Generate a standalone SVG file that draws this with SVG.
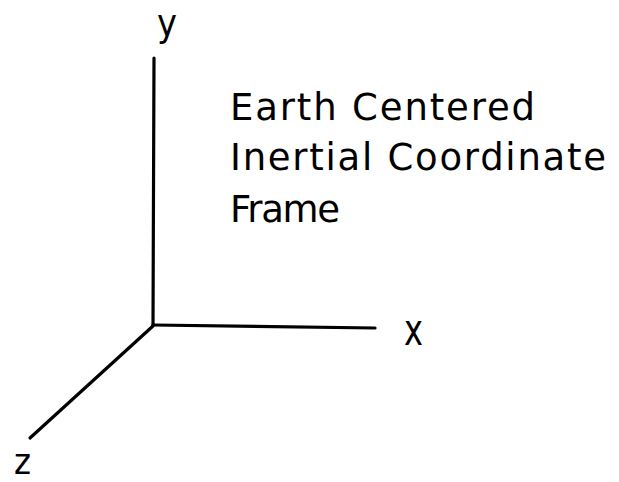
<svg xmlns="http://www.w3.org/2000/svg" width="619" height="482" viewBox="0 0 619 482">
<style>
.axis{stroke:#000;stroke-width:3.2;stroke-linecap:round;fill:none}
.lbl{font-family:"DejaVu Sans","Liberation Sans",sans-serif;fill:#000}
.title{font-family:"DejaVu Sans","Liberation Sans",sans-serif;font-size:37px;fill:#000}
</style>
<rect width="619" height="482" fill="#fff"/>
<g id="connectors">
<line class="axis" x1="154" y1="58" x2="153" y2="325"/>
<line class="axis" x1="153" y1="325" x2="375" y2="328"/>
<line class="axis" x1="153" y1="326" x2="30" y2="438"/>
</g>
<g id="label-y"><text class="lbl" x="157" y="36" font-size="37" textLength="20" lengthAdjust="spacingAndGlyphs">y</text></g>
<g id="label-x"><text class="lbl" x="404" y="345" font-size="45" textLength="19" lengthAdjust="spacingAndGlyphs">x</text></g>
<g id="label-z"><text class="lbl" x="14" y="474" font-size="36" textLength="17" lengthAdjust="spacingAndGlyphs">z</text></g>
<g id="title">
<text class="title" x="230" y="120" textLength="305">Earth  Centered</text>
<text class="title" x="230" y="170" textLength="376">Inertial Coordinate</text>
<text class="title" x="230" y="222" textLength="110">Frame</text>
</g>
</svg>
